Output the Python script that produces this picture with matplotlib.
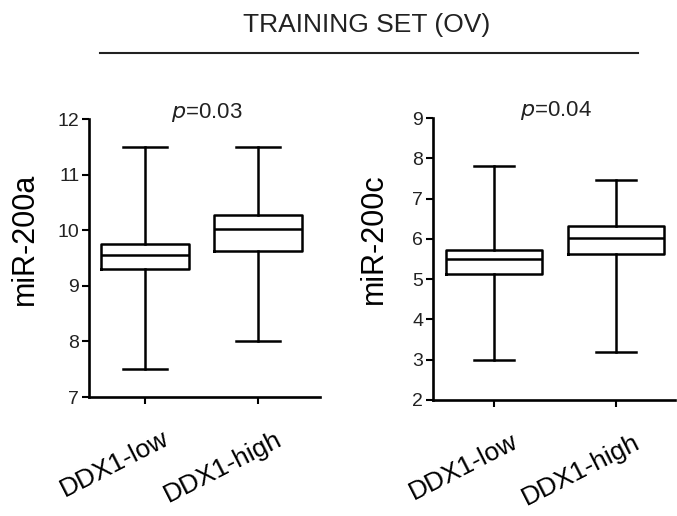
import matplotlib
matplotlib.use("Agg")
import matplotlib.pyplot as plt
from matplotlib.lines import Line2D
from matplotlib.transforms import ScaledTranslation

plt.rcParams['font.family'] = ['Liberation Sans', 'DejaVu Sans']

groups = ["DDX1-low", "DDX1-high"]

# miR-200a: (whisker low, q1, median, q3, whisker high)
mir200a_low = [7.5, 9.3, 9.55, 9.75, 11.5]
mir200a_high = [8.0, 9.62, 10.02, 10.27, 11.5]
# miR-200c
mir200c_low = [3.0, 5.13, 5.5, 5.72, 7.8]
mir200c_high = [3.2, 5.62, 6.03, 6.32, 7.45]

pvals = ["0.03", "0.04"]

W, H = 677, 516


def stats(vals, label):
    lo, q1, med, q3, hi = vals
    return dict(whislo=lo, q1=q1, med=med, q3=q3, whishi=hi, label=label, fliers=[])


def draw_panel(fig, ax, low, high, ylabel, ylim, yticks, xlim, capw, p, ylab_x):
    lw = 1.8
    ax.bxp([stats(low, groups[0]), stats(high, groups[1])], positions=[1, 2],
           widths=0.78, capwidths=capw, showfliers=False,
           boxprops=dict(color='black', linewidth=lw),
           whiskerprops=dict(color='black', linewidth=lw),
           capprops=dict(color='black', linewidth=lw),
           medianprops=dict(color='black', linewidth=lw))
    ax.set_ylim(*ylim)
    ax.set_xlim(*xlim)
    ax.set_yticks(yticks)
    for s in ['top', 'right']:
        ax.spines[s].set_visible(False)
    for s in ['left', 'bottom']:
        ax.spines[s].set_linewidth(1.9)
    ax.tick_params(axis='both', direction='out', width=1.5, length=5, pad=2,
                   labelsize=14, labelcolor='#222222')
    ax.set_xticks([1, 2])
    ax.set_xticklabels(groups, rotation=27, ha='right', va='top',
                       rotation_mode='anchor', fontsize=19, color='black')
    shift = ScaledTranslation(17 / 100, -20 / 100, fig.dpi_scale_trans)
    for lab in ax.get_xticklabels():
        lab.set_transform(lab.get_transform() + shift)
    # y label, placed a bit above the axes centre as in the original
    fig.text(ylab_x / W, 1 - 239 / H, ylabel, rotation=90, ha='center', va='center',
             fontsize=22, color='black')
    ax.text(0.51, 1.025, r"$\it{p}$=" + p, transform=ax.transAxes, ha='center',
            va='center', fontsize=16, color='#222222')


fig = plt.figure(figsize=(W / 100, H / 100), dpi=100)
ax1 = fig.add_axes([89 / W, 1 - 397 / H, (320 - 89) / W, (397 - 119) / H])
ax2 = fig.add_axes([433 / W, 1 - 400 / H, (675 - 433) / W, (400 - 118) / H])

draw_panel(fig, ax1, mir200a_low, mir200a_high, "miR-200a", (7, 12), range(7, 13),
           (0.506, 2.546), 0.39, pvals[0], 25)
draw_panel(fig, ax2, mir200c_low, mir200c_high, "miR-200c", (2, 9), range(2, 10),
           (0.5, 2.484), 0.33, pvals[1], 374)

fig.text(367 / W, 1 - 25 / H, "TRAINING SET (OV)", ha='center', va='center',
         fontsize=19, color='#222222')
fig.add_artist(Line2D([100 / W, 638 / W], [1 - 53 / H, 1 - 53 / H],
                      color='#222222', linewidth=1.5, transform=fig.transFigure))

fig.savefig("out.png", dpi=100)
